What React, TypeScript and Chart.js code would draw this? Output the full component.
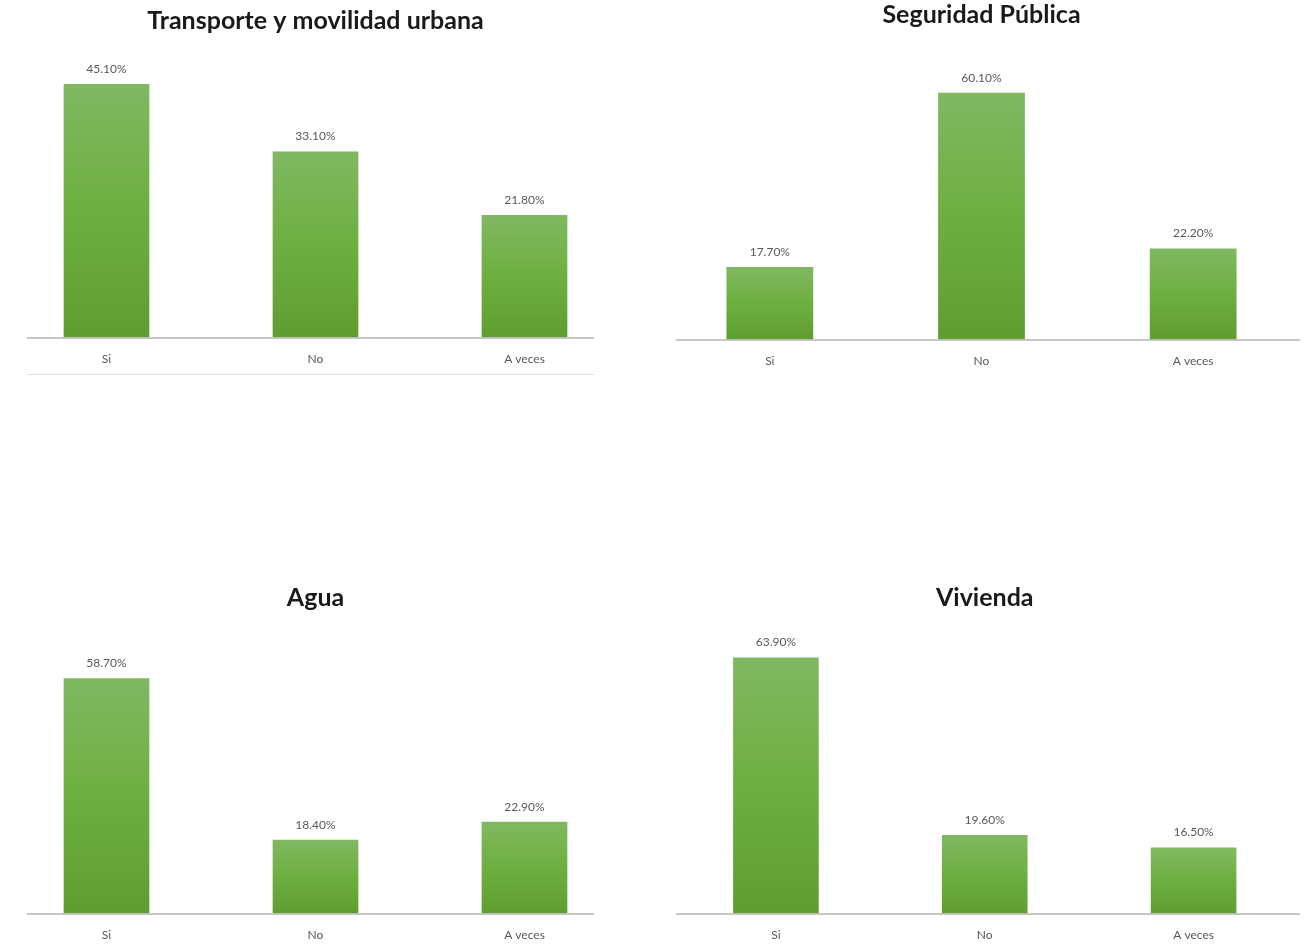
import React, { useEffect, useRef } from "react";
import { Chart, registerables } from "chart.js";

Chart.register(...registerables);

const categories = ["Si", "No", "A veces"];
const transporteValues = [45.1, 33.1, 21.8];
const seguridadValues = [17.7, 60.1, 22.2];
const aguaValues = [58.7, 18.4, 22.9];
const viviendaValues = [63.9, 19.6, 16.5];

const titles = [
  "Transporte y movilidad urbana",
  "Seguridad Pública",
  "Agua",
  "Vivienda",
];
const seriesList = [transporteValues, seguridadValues, aguaValues, viviendaValues];
const yMaxList = [50, 70, 70, 70];

// layout (positions / sizes) kept separate from the data
const boxes = [
  { left: 0, top: 0, width: 640, height: 380, padL: 2, padR: 11, tTop: 6, tBot: 20.5, lineL: 27, lineR: 594 },
  { left: 655, top: 0, width: 650, height: 382, padL: 9, padR: 6, tTop: 0, tBot: 22, lineL: 21, lineR: 645 },
  { left: 0, top: 570, width: 640, height: 386, padL: 2, padR: 11, tTop: 13, tBot: 20, lineL: 27, lineR: 594 },
  { left: 655, top: 570, width: 650, height: 386, padL: 16.5, padR: 7, tTop: 13, tBot: 20, lineL: 21, lineR: 645 },
];

const FONT = "Lato, 'Open Sans', sans-serif";

const valueLabelPlugin = {
  id: "valueLabels",
  afterDatasetsDraw(chart: any) {
    const ctx = chart.ctx;
    const meta = chart.getDatasetMeta(0);
    const data = chart.data.datasets[0].data as number[];
    ctx.save();
    ctx.font = `12px ${FONT}`;
    ctx.fillStyle = "#595959";
    ctx.textAlign = "center";
    ctx.textBaseline = "bottom";
    meta.data.forEach((el: any, i: number) => {
      ctx.fillText(`${data[i].toFixed(2)}%`, el.x, el.y - 9);
    });
    ctx.restore();
  },
};

const baseLinePlugin = {
  id: "baseLine",
  afterDatasetsDraw(chart: any, _args: any, opts: any) {
    const ctx = chart.ctx;
    const y = chart.chartArea.bottom + 0.5;
    ctx.save();
    ctx.strokeStyle = "#b3b3b3";
    ctx.lineWidth = 1.5;
    ctx.beginPath();
    ctx.moveTo(opts.left, y);
    ctx.lineTo(opts.right, y);
    ctx.stroke();
    ctx.restore();
  },
};

function BarChart({ idx }: { idx: number }) {
  const ref = useRef<HTMLCanvasElement>(null);
  const b = boxes[idx];
  useEffect(() => {
    if (!ref.current) return;
    const chart = new Chart(ref.current, {
      type: "bar",
      data: {
        labels: categories,
        datasets: [
          {
            data: seriesList[idx],
            backgroundColor: (c: any) => {
              const ch = c.chart;
              const area = ch.chartArea;
              if (!area || c.raw == null) return "#70ad47";
              const top = ch.scales.y.getPixelForValue(c.raw);
              const g = ch.ctx.createLinearGradient(0, top, 0, area.bottom);
              g.addColorStop(0, "#80b862");
              g.addColorStop(0.45, "#70b043");
              g.addColorStop(1, "#5f9d2f");
              return g;
            },
            borderWidth: 0,
            categoryPercentage: 0.41,
            barPercentage: 1,
          },
        ],
      },
      options: {
        responsive: false,
        animation: false,
        devicePixelRatio: 1,
        layout: { padding: { left: b.padL, right: b.padR, top: 0, bottom: 0 } },
        plugins: {
          legend: { display: false },
          tooltip: { enabled: false },
          title: {
            display: true,
            text: titles[idx],
            color: "#1a1a1a",
            font: { family: FONT, size: 25, weight: "bold", lineHeight: 1.2 },
            padding: { top: b.tTop, bottom: b.tBot },
          },
          baseLine: { left: b.lineL, right: b.lineR },
        } as any,
        scales: {
          x: {
            grid: { display: false, drawTicks: false },
            border: { display: false },
            ticks: {
              color: "#595959",
              font: { family: FONT, size: 12, lineHeight: 1.2 },
              padding: 14,
            },
          },
          y: {
            display: false,
            min: 0,
            max: yMaxList[idx],
          },
        },
      },
      plugins: [valueLabelPlugin, baseLinePlugin],
    });
    return () => chart.destroy();
  }, [idx]);
  return (
    <canvas
      ref={ref}
      width={b.width}
      height={b.height}
      style={{ position: "absolute", left: b.left, top: b.top, width: b.width, height: b.height }}
    />
  );
}

export default function App() {
  useEffect(() => {
    document.body.style.margin = "0";
  }, []);
  return (
    <div
      style={{
        position: "fixed",
        left: 0,
        top: 0,
        width: 1312,
        height: 948,
        overflow: "hidden",
        background: "#ffffff",
      }}
    >
      {[0, 1, 2, 3].map((i) => (
        <BarChart key={i} idx={i} />
      ))}
      <div
        style={{
          position: "absolute",
          left: 27,
          top: 374,
          width: 567,
          height: 0,
          borderTop: "1px solid #dedede",
        }}
      />
    </div>
  );
}
